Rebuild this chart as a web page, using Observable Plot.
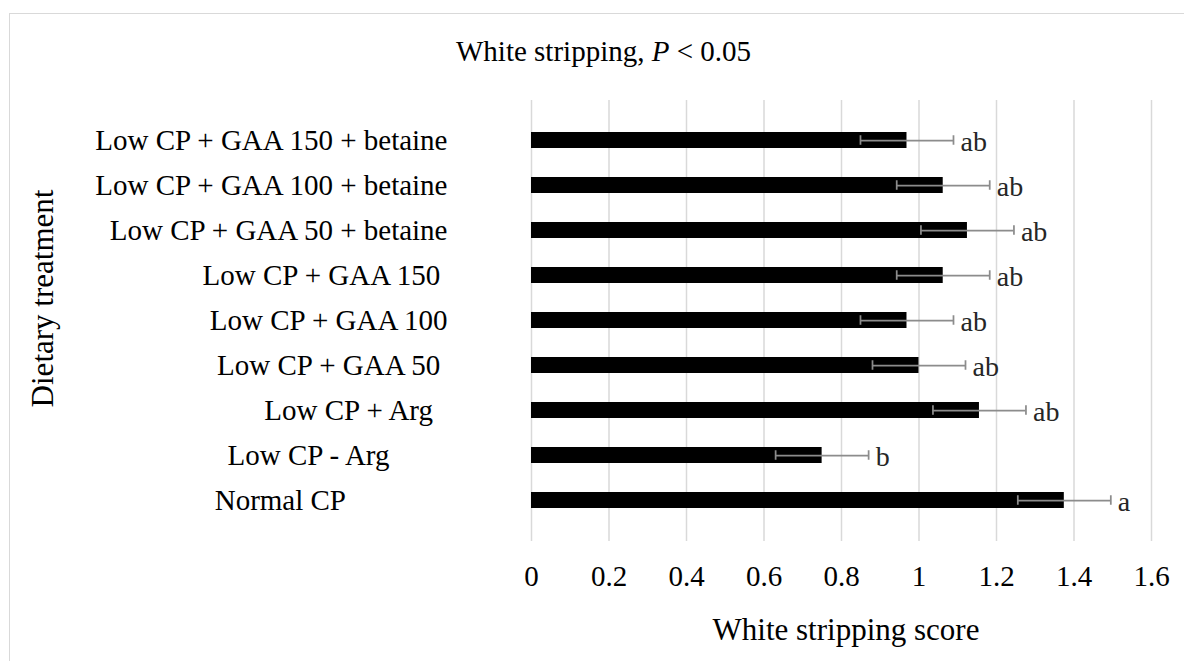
<!DOCTYPE html>
<html>
<head>
<meta charset="utf-8">
<script src="https://cdn.jsdelivr.net/npm/d3@7"></script>
<script src="https://cdn.jsdelivr.net/npm/@observablehq/plot@0.6"></script>
<style>
  html, body { margin: 0; padding: 0; background: #fff; overflow: hidden; }
  #wrap { position: relative; width: 1184px; height: 661px; }
  #wrap svg { display: block; }
  #wrap svg, #wrap svg text, #wrap svg g { font-family: 'Liberation Serif', 'Times New Roman', serif !important; }
  #frame { position: absolute; left: 9px; top: 13px; width: 1190px; height: 720px;
           border: 1.5px solid #d9d9d9; box-sizing: border-box; pointer-events: none; }
</style>
</head>
<body>
<div id="wrap"></div>
<script>
// Categories (bottom to top, as in the source chart)
const categories = [
  "Normal CP",
  "Low CP - Arg",
  "Low CP + Arg",
  "Low CP + GAA 50",
  "Low CP + GAA 100",
  "Low CP + GAA 150",
  "Low CP + GAA 50 + betaine",
  "Low CP + GAA 100 + betaine",
  "Low CP + GAA 150 + betaine"
];
// Tick labels as typed in the source (with trailing spaces)
const NB = "\u00A0";
const tickLabels = [
  "Normal CP" + NB.repeat(14),
  "Low CP - Arg" + NB.repeat(8),
  "Low CP + Arg" + NB.repeat(2),
  "Low CP + GAA 50" + NB,
  "Low CP + GAA 100",
  "Low CP + GAA 150" + NB,
  "Low CP + GAA 50 + betaine",
  "Low CP + GAA 100 + betaine",
  "Low CP + GAA 150 + betaine"
];
const means  = [1.375, 0.75, 1.156, 1.0, 0.969, 1.0625, 1.125, 1.0625, 0.969];
const errors = [0.12, 0.12, 0.12, 0.12, 0.12, 0.12, 0.12, 0.12, 0.12];
const letters = ["a", "b", "ab", "ab", "ab", "ab", "ab", "ab", "ab"];
const xTicks = [0, 0.2, 0.4, 0.6, 0.8, 1, 1.2, 1.4, 1.6];

const data = categories.map((c, i) => ({c, v: means[i], e: errors[i], l: letters[i]}));
const font = "'Liberation Serif', 'Times New Roman', serif";
const errColor = "#8c8c8c";

const plot = Plot.plot({
  width: 1184,
  height: 661,
  marginLeft: 531,
  marginRight: 33,
  marginTop: 100,
  marginBottom: 120,
  style: {fontFamily: font, fontSize: "29px", color: "#000", background: "transparent", overflow: "visible"},
  x: {domain: [0, 1.6], ticks: xTicks, tickSize: 0, tickPadding: 24, label: null,
      tickFormat: d => String(Math.round(d * 10) / 10)},
  y: {domain: categories.slice().reverse(), padding: 0.643, tickSize: 0, tickPadding: 84, label: null,
      tickFormat: c => tickLabels[categories.indexOf(c)]},
  marks: [
    Plot.ruleX(xTicks, {stroke: "#d9d9d9", strokeWidth: 1.5}),
    Plot.barX(data, {x: "v", y: "c", fill: "#000"}),
    Plot.ruleY(data, {y: "c", x1: d => d.v - d.e, x2: d => d.v + d.e, stroke: errColor, strokeWidth: 1.75}),
    Plot.tickX(data, {y: "c", x: d => d.v - d.e, stroke: errColor, strokeWidth: 1.75, insetTop: 3.25, insetBottom: 3.25}),
    Plot.tickX(data, {y: "c", x: d => d.v + d.e, stroke: errColor, strokeWidth: 1.75, insetTop: 3.25, insetBottom: 3.25}),
    Plot.text(data, {x: d => d.v + d.e, y: "c", text: "l", textAnchor: "start", dx: 7, dy: 2,
                     fontSize: 28, fill: "#262626", fontFamily: font})
  ]
});

const svg = d3.select(plot);
// Chart title
svg.append("text")
  .attr("x", 603.5).attr("y", 61)
  .attr("text-anchor", "middle")
  .attr("font-family", font).attr("font-size", 29).attr("fill", "#000")
  .call(t => {
    t.append("tspan").text("White stripping, ");
    t.append("tspan").attr("font-style", "italic").text("P");
    t.append("tspan").text(" < 0.05");
  });
// X axis title
svg.append("text")
  .attr("x", 846).attr("y", 640)
  .attr("text-anchor", "middle")
  .attr("font-family", font).attr("font-size", 31).attr("fill", "#000")
  .text("White stripping score");
// Y axis title
svg.append("text")
  .attr("transform", "translate(53,298.5) rotate(-90)")
  .attr("text-anchor", "middle")
  .attr("font-family", font).attr("font-size", 31).attr("fill", "#000")
  .text("Dietary treatment");

const wrap = document.getElementById("wrap");
wrap.appendChild(plot);
const frame = document.createElement("div");
frame.id = "frame";
wrap.appendChild(frame);
</script>
</body>
</html>
